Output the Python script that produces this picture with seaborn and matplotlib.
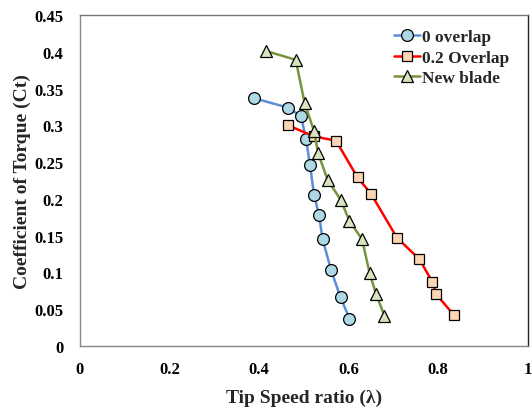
import matplotlib
matplotlib.use("Agg")
import matplotlib.pyplot as plt
import seaborn as sns
import pandas as pd

# Data
x_zero = [0.388, 0.465, 0.494, 0.505, 0.514, 0.523, 0.534, 0.542, 0.561, 0.582, 0.602]
y_zero = [0.337, 0.324, 0.312, 0.281, 0.246, 0.205, 0.178, 0.145, 0.103, 0.066, 0.037]

x_02 = [0.465, 0.522, 0.572, 0.620, 0.650, 0.708, 0.758, 0.787, 0.796, 0.835]
y_02 = [0.300, 0.285, 0.279, 0.229, 0.207, 0.147, 0.118, 0.087, 0.070, 0.042]

x_new = [0.416, 0.482, 0.502, 0.523, 0.532, 0.553, 0.582, 0.602, 0.630, 0.647, 0.661, 0.680]
y_new = [0.401, 0.389, 0.330, 0.292, 0.262, 0.226, 0.199, 0.170, 0.145, 0.099, 0.071, 0.041]

labels = ["0 overlap", "0.2 Overlap", "New blade"]
x_ticks = [0, 0.2, 0.4, 0.6, 0.8, 1]
x_tick_labels = ["0", "0.2", "0.4", "0.6", "0.8", "1"]
y_ticks = [0, 0.05, 0.1, 0.15, 0.2, 0.25, 0.3, 0.35, 0.4, 0.45]
y_tick_labels = ["0", "0.05", "0.1", "0.15", "0.2", "0.25", "0.3", "0.35", "0.4", "0.45"]

sns.set_theme(style="white")
plt.rcParams["font.family"] = ["Liberation Serif", "DejaVu Serif"]

fig = plt.figure(figsize=(5.32, 4.10), dpi=100)
ax = fig.add_axes([0.150, 0.154, 0.842, 0.807])

styles = [
    dict(color="#5B8FD6", marker="o", markerfacecolor="#ADD8E6", markersize=8.5),
    dict(color="#FF0000", marker="s", markerfacecolor="#FCD5B5", markersize=6.5),
    dict(color="#77933C", marker="^", markerfacecolor="#D7E4BD", markersize=8),
]
series = [(x_zero, y_zero), (x_02, y_02), (x_new, y_new)]
for (xs, ys), lab, st in zip(series, labels, styles):
    df = pd.DataFrame({"x": xs, "y": ys})
    sns.lineplot(data=df, x="x", y="y", ax=ax, sort=False, estimator=None,
                 label=lab, linewidth=1.8, markeredgecolor="black",
                 markeredgewidth=0.9, legend=False, **st)

ax.set_xlim(0, 1)
ax.set_ylim(0, 0.45)
ax.set_xticks(x_ticks)
ax.set_xticklabels(x_tick_labels, fontweight="bold", fontsize=12)
ax.set_yticks(y_ticks)
ax.set_yticklabels(y_tick_labels, fontweight="bold", fontsize=12)
ax.tick_params(axis="both", direction="in", length=4, width=0.8, color="#888888",
               labelcolor="black")
ax.tick_params(axis="y", pad=12)
ax.tick_params(axis="x", pad=11)

ax.set_xlabel("Tip Speed ratio (λ)", fontweight="bold", fontsize=14, labelpad=8)
ax.set_ylabel("Coefficient of Torque (Ct)", fontweight="bold", fontsize=14, labelpad=2)

for side in ["left", "bottom"]:
    ax.spines[side].set_color("#888888")
    ax.spines[side].set_linewidth(1.0)
ax.spines["top"].set_color("#777777")
ax.spines["top"].set_linewidth(1.0)
ax.spines["right"].set_color("#222222")
ax.spines["right"].set_linewidth(1.0)

handles = list(ax.lines)
leg = ax.legend(handles, labels, loc="upper left", frameon=False,
                prop=dict(weight="bold", size=12.5), numpoints=1,
                handlelength=1.45, handletextpad=0.15, labelspacing=0.25,
                bbox_to_anchor=(0.687, 0.978), borderaxespad=0.0)

fig.savefig("out.png", dpi=100)
